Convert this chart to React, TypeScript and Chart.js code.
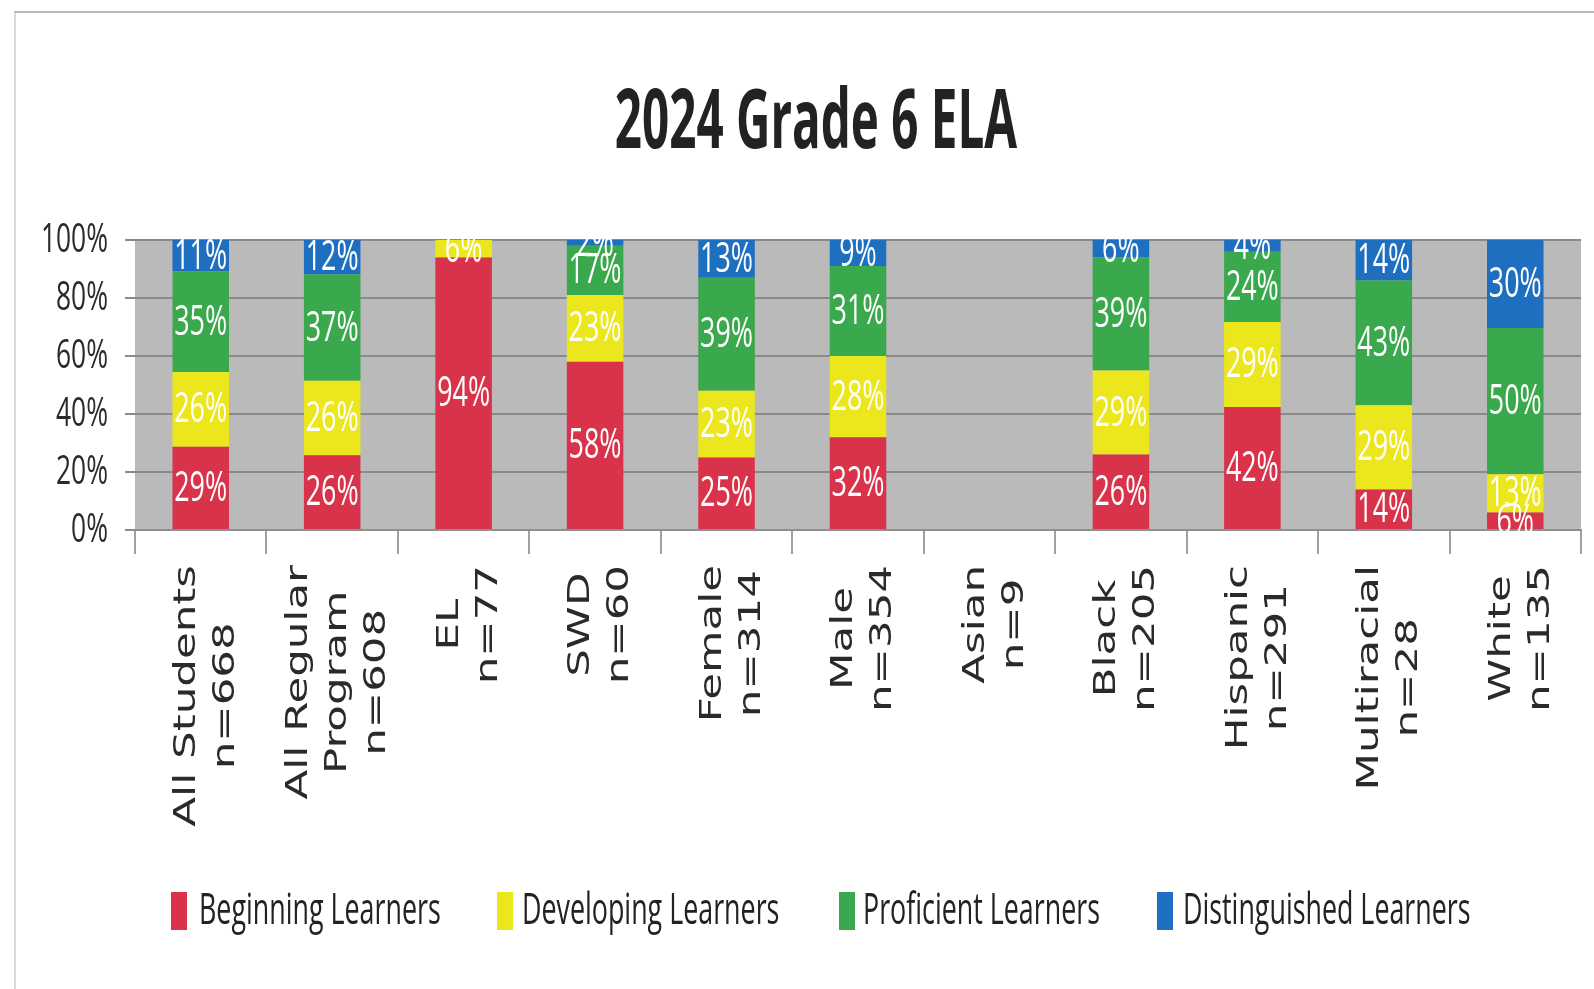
import React, { useEffect, useRef } from "react";
import { Chart, registerables } from "chart.js";

Chart.register(...registerables);

const chartTitle = "2024 Grade 6 ELA";
const categories: string[][] = [
  ["All Students", "n=668"],
  ["All Regular", "Program", "n=608"],
  ["EL", "n=77"],
  ["SWD", "n=60"],
  ["Female", "n=314"],
  ["Male", "n=354"],
  ["Asian", "n=9"],
  ["Black", "n=205"],
  ["Hispanic", "n=291"],
  ["Multiracial", "n=28"],
  ["White", "n=135"],
];
const seriesNames = [
  "Beginning Learners",
  "Developing Learners",
  "Proficient Learners",
  "Distinguished Learners",
];
const beginning = [29, 26, 94, 58, 25, 32, null, 26, 42, 14, 6];
const developing = [26, 26, 6, 23, 23, 28, null, 29, 29, 29, 13];
const proficient = [35, 37, 0, 17, 39, 31, null, 39, 24, 43, 50];
const distinguished = [11, 12, 0, 2, 13, 9, null, 6, 4, 14, 30];
const yTickValues = [0, 20, 40, 60, 80, 100];

const seriesData = [beginning, developing, proficient, distinguished];
const COLORS = ["#d8334a", "#ece61c", "#3aa84c", "#1e6fc0"];

// 100% stacked: each column is scaled to its own total (as the source chart does)
const totals = categories.map((_, i) =>
  seriesData.reduce((s, arr) => s + ((arr[i] as number) || 0), 0)
);
const stackedShares = seriesData.map((arr) =>
  arr.map((v, i) => (v === null ? null : totals[i] ? ((v as number) / totals[i]) * 100 : 0))
);

const W = 1594;
const H = 989;
const FONT = '"Open Sans", "Noto Sans", sans-serif';
const XFONT = '"DejaVu Sans", Verdana, sans-serif';

function drawText(
  ctx: CanvasRenderingContext2D,
  text: string,
  x: number,
  y: number,
  font: string,
  sx: number,
  align: CanvasTextAlign,
  color: string
) {
  ctx.save();
  ctx.font = font;
  ctx.fillStyle = color;
  ctx.translate(x, y);
  ctx.scale(sx, 1);
  ctx.textAlign = align;
  ctx.textBaseline = "middle";
  ctx.fillText(text, 0, 0);
  ctx.restore();
}

const customPlugin = {
  id: "custom",
  beforeDraw(chart: any) {
    const { ctx, chartArea } = chart;
    ctx.save();
    ctx.fillStyle = "#ffffff";
    ctx.fillRect(0, 0, W, H);
    ctx.strokeStyle = "#dadada";
    ctx.lineWidth = 2;
    ctx.beginPath();
    ctx.moveTo(15, H);
    ctx.lineTo(15, 12);
    ctx.stroke();
    ctx.strokeStyle = "#b8b8b8";
    ctx.beginPath();
    ctx.moveTo(14, 12);
    ctx.lineTo(W, 12);
    ctx.stroke();
    ctx.fillStyle = "#bababa";
    ctx.fillRect(
      chartArea.left,
      chartArea.top,
      chartArea.right - chartArea.left,
      chartArea.bottom - chartArea.top
    );
    ctx.restore();
  },
  afterDatasetsDraw(chart: any) {
    const { ctx } = chart;
    seriesData.forEach((arr, d) => {
      const meta = chart.getDatasetMeta(d);
      meta.data.forEach((bar: any, i: number) => {
        const v = arr[i];
        if (v === null || v === undefined || v === 0) return;
        const cy = (bar.y + bar.base) / 2;
        drawText(ctx, `${v}%`, bar.x, cy + 1, `42px ${FONT}`, 0.64, "center", "#ffffff");
      });
    });
  },
  afterDraw(chart: any) {
    const { ctx, chartArea } = chart;
    // Title
    drawText(ctx, chartTitle, 816, 125, `bold 82px ${FONT}`, 0.58, "center", "#222222");
    // Y tick labels
    const ys = chart.scales.y;
    yTickValues.forEach((v) => {
      drawText(ctx, `${v}%`, 108, ys.getPixelForValue(v) + 1, `40px ${FONT}`, 0.66, "right", "#2a2a2a");
    });
    // X labels (rotated, centered blocks)
    const xs = chart.scales.x;
    const stretch = 1.45;
    const lineGap = 39;
    const topY = chartArea.bottom + 35;
    ctx.save();
    ctx.font = `30px ${XFONT}`;
    categories.forEach((lines, i) => {
      const cx = xs.getPixelForValue(i);
      let maxLen = 0;
      lines.forEach((l) => {
        maxLen = Math.max(maxLen, ctx.measureText(l).width * stretch);
      });
      const cy = topY + maxLen / 2;
      lines.forEach((l, k) => {
        const lx = cx + (k - (lines.length - 1) / 2) * lineGap + 6;
        ctx.save();
        ctx.translate(lx, cy);
        ctx.rotate(-Math.PI / 2);
        ctx.scale(stretch, 1);
        ctx.fillStyle = "#2a2a2a";
        ctx.textAlign = "center";
        ctx.textBaseline = "middle";
        ctx.fillText(l, 0, 0);
        ctx.restore();
      });
    });
    ctx.restore();
    // Legend
    const boxX = [171, 497, 839, 1157];
    const textX = [199, 522, 863, 1183];
    const legendY = 911;
    chart.data.datasets.forEach((ds: any, d: number) => {
      ctx.save();
      ctx.fillStyle = ds.backgroundColor;
      ctx.fillRect(boxX[d], legendY - 19, 16, 38);
      ctx.restore();
      drawText(ctx, ds.label, textX[d], legendY, `44px ${FONT}`, 0.61, "left", "#222222");
    });
  },
};

export default function App() {
  const ref = useRef<HTMLCanvasElement | null>(null);
  useEffect(() => {
    if (!ref.current) return;
    const chart = new Chart(ref.current, {
      type: "bar",
      data: {
        labels: categories.map((c) => c.join(" ")),
        datasets: seriesNames.map((name, i) => ({
          label: name,
          data: stackedShares[i] as any,
          backgroundColor: COLORS[i],
          borderWidth: 0,
          barPercentage: 0.43,
          categoryPercentage: 1,
        })),
      },
      options: {
        animation: false,
        responsive: false,
        layout: { padding: { top: 240, right: 13, left: 0, bottom: 0 } },
        plugins: {
          legend: { display: false },
          title: { display: false },
          tooltip: { enabled: false },
        },
        scales: {
          x: {
            stacked: true,
            grid: {
              display: true,
              drawOnChartArea: false,
              drawTicks: true,
              tickLength: 24,
              color: "#a0a0a0",
              lineWidth: 2,
              offset: true,
            },
            border: { display: true, color: "#8f8f8f", width: 2 },
            ticks: { display: false },
            afterFit: (s: any) => {
              s.height = H - 530;
            },
          },
          y: {
            stacked: true,
            min: 0,
            max: 100,
            ticks: { display: false, stepSize: 20 },
            grid: { color: "#8a8a8a", lineWidth: 2, tickLength: 10, drawTicks: true },
            border: { display: false },
            afterFit: (s: any) => {
              s.width = 135;
            },
          },
        },
      },
      plugins: [customPlugin],
    });
    return () => chart.destroy();
  }, []);
  return (
    <div style={{ position: "fixed", left: 0, top: 0, width: W, height: H, background: "#fff" }}>
      <canvas ref={ref} width={W} height={H} style={{ width: W, height: H, display: "block" }} />
    </div>
  );
}
